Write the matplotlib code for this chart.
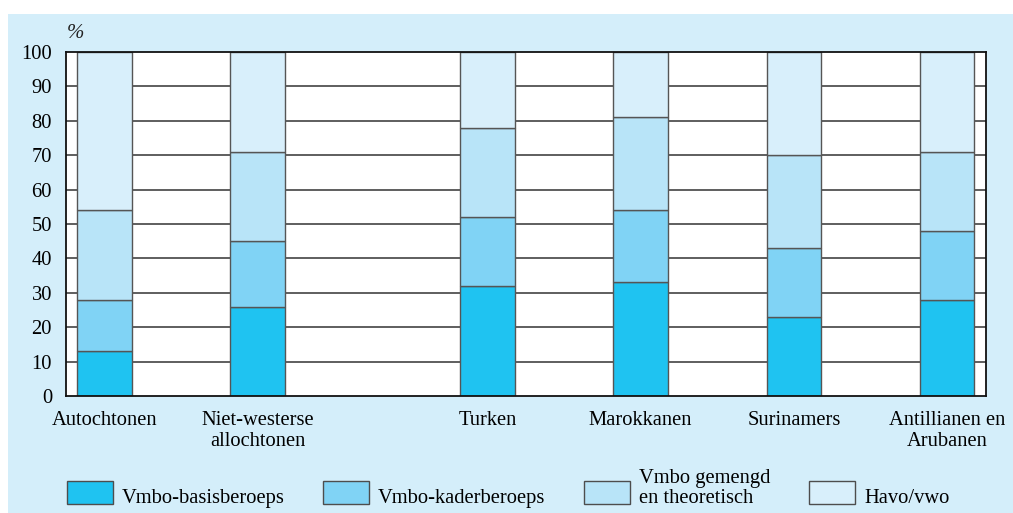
import matplotlib
matplotlib.use("Agg")
import matplotlib.pyplot as plt
from matplotlib.patches import Rectangle
import numpy as np

categories = ["Autochtonen", "Niet-westerse\nallochtonen", "Turken", "Marokkanen",
              "Surinamers", "Antillianen en\nArubanen"]
positions = [0, 1, 2.5, 3.5, 4.5, 5.5]
series_names = ["Vmbo-basisberoeps", "Vmbo-kaderberoeps", "Vmbo gemengd\nen theoretisch", "Havo/vwo"]
basis = [13, 26, 32, 33, 23, 28]
kader = [15, 19, 20, 21, 20, 20]
gemengd = [26, 26, 26, 27, 27, 23]
havo = [46, 29, 22, 19, 30, 29]
yticks = list(range(0, 101, 10))

colors = ["#1fc3f1", "#80d3f5", "#b8e4f8", "#d8effb"]
bg = "#d4eefa"

plt.rcParams["font.family"] = ["Liberation Serif", "DejaVu Serif"]
FS = 14.8

W, H = 1013, 513
fig = plt.figure(figsize=(W / 100, H / 100), dpi=100)
fig.patch.set_facecolor("white")
fig.patches.append(Rectangle((8 / W, 0), 1 - 8 / W, 1 - 14 / H, transform=fig.transFigure,
                             facecolor=bg, edgecolor="none", zorder=-10))

ax = fig.add_axes([66 / W, 1 - 396 / H, (986 - 66) / W, (396 - 52) / H])
ax.set_facecolor("white")
ax.set_xlim(-0.251, 5.754)
ax.set_ylim(0, 100)

for y in yticks[1:-1]:
    ax.axhline(y, color="#333333", lw=1.1, zorder=1)

width = 0.356
bottom = np.zeros(len(categories))
for vals, c in zip([basis, kader, gemengd, havo], colors):
    ax.bar(positions, vals, width=width, bottom=bottom, color=c, edgecolor="#555555",
           linewidth=1.0, zorder=3)
    bottom += np.array(vals)

ax.set_yticks(yticks)
ax.set_yticklabels([str(t) for t in yticks], fontsize=FS)
ax.set_xticks(positions)
ax.set_xticklabels(categories, fontsize=FS, linespacing=1.12)
ax.tick_params(axis="both", length=0)
ax.tick_params(axis="y", pad=10)
ax.tick_params(axis="x", pad=11)
for s in ax.spines.values():
    s.set_color("#111111")
    s.set_linewidth(1.3)
    s.set_zorder(4)

fig.text(67 / W, 1 - 38 / H, "%", fontsize=15, style="italic", color="#222222")

# legend
leg_x = [67, 323, 584, 809]
for xpos, name, c in zip(leg_x, series_names, colors):
    fig.patches.append(Rectangle((xpos / W, 1 - 504 / H), 46 / W, 23 / H,
                                 transform=fig.transFigure, facecolor=c,
                                 edgecolor="#4d4d4d", linewidth=1.0))
    fig.text((xpos + 55) / W, 1 - 503 / H, name, fontsize=FS, ha="left",
             va="baseline", linespacing=1.05)

fig.savefig("out.png", dpi=100, facecolor=fig.get_facecolor())
